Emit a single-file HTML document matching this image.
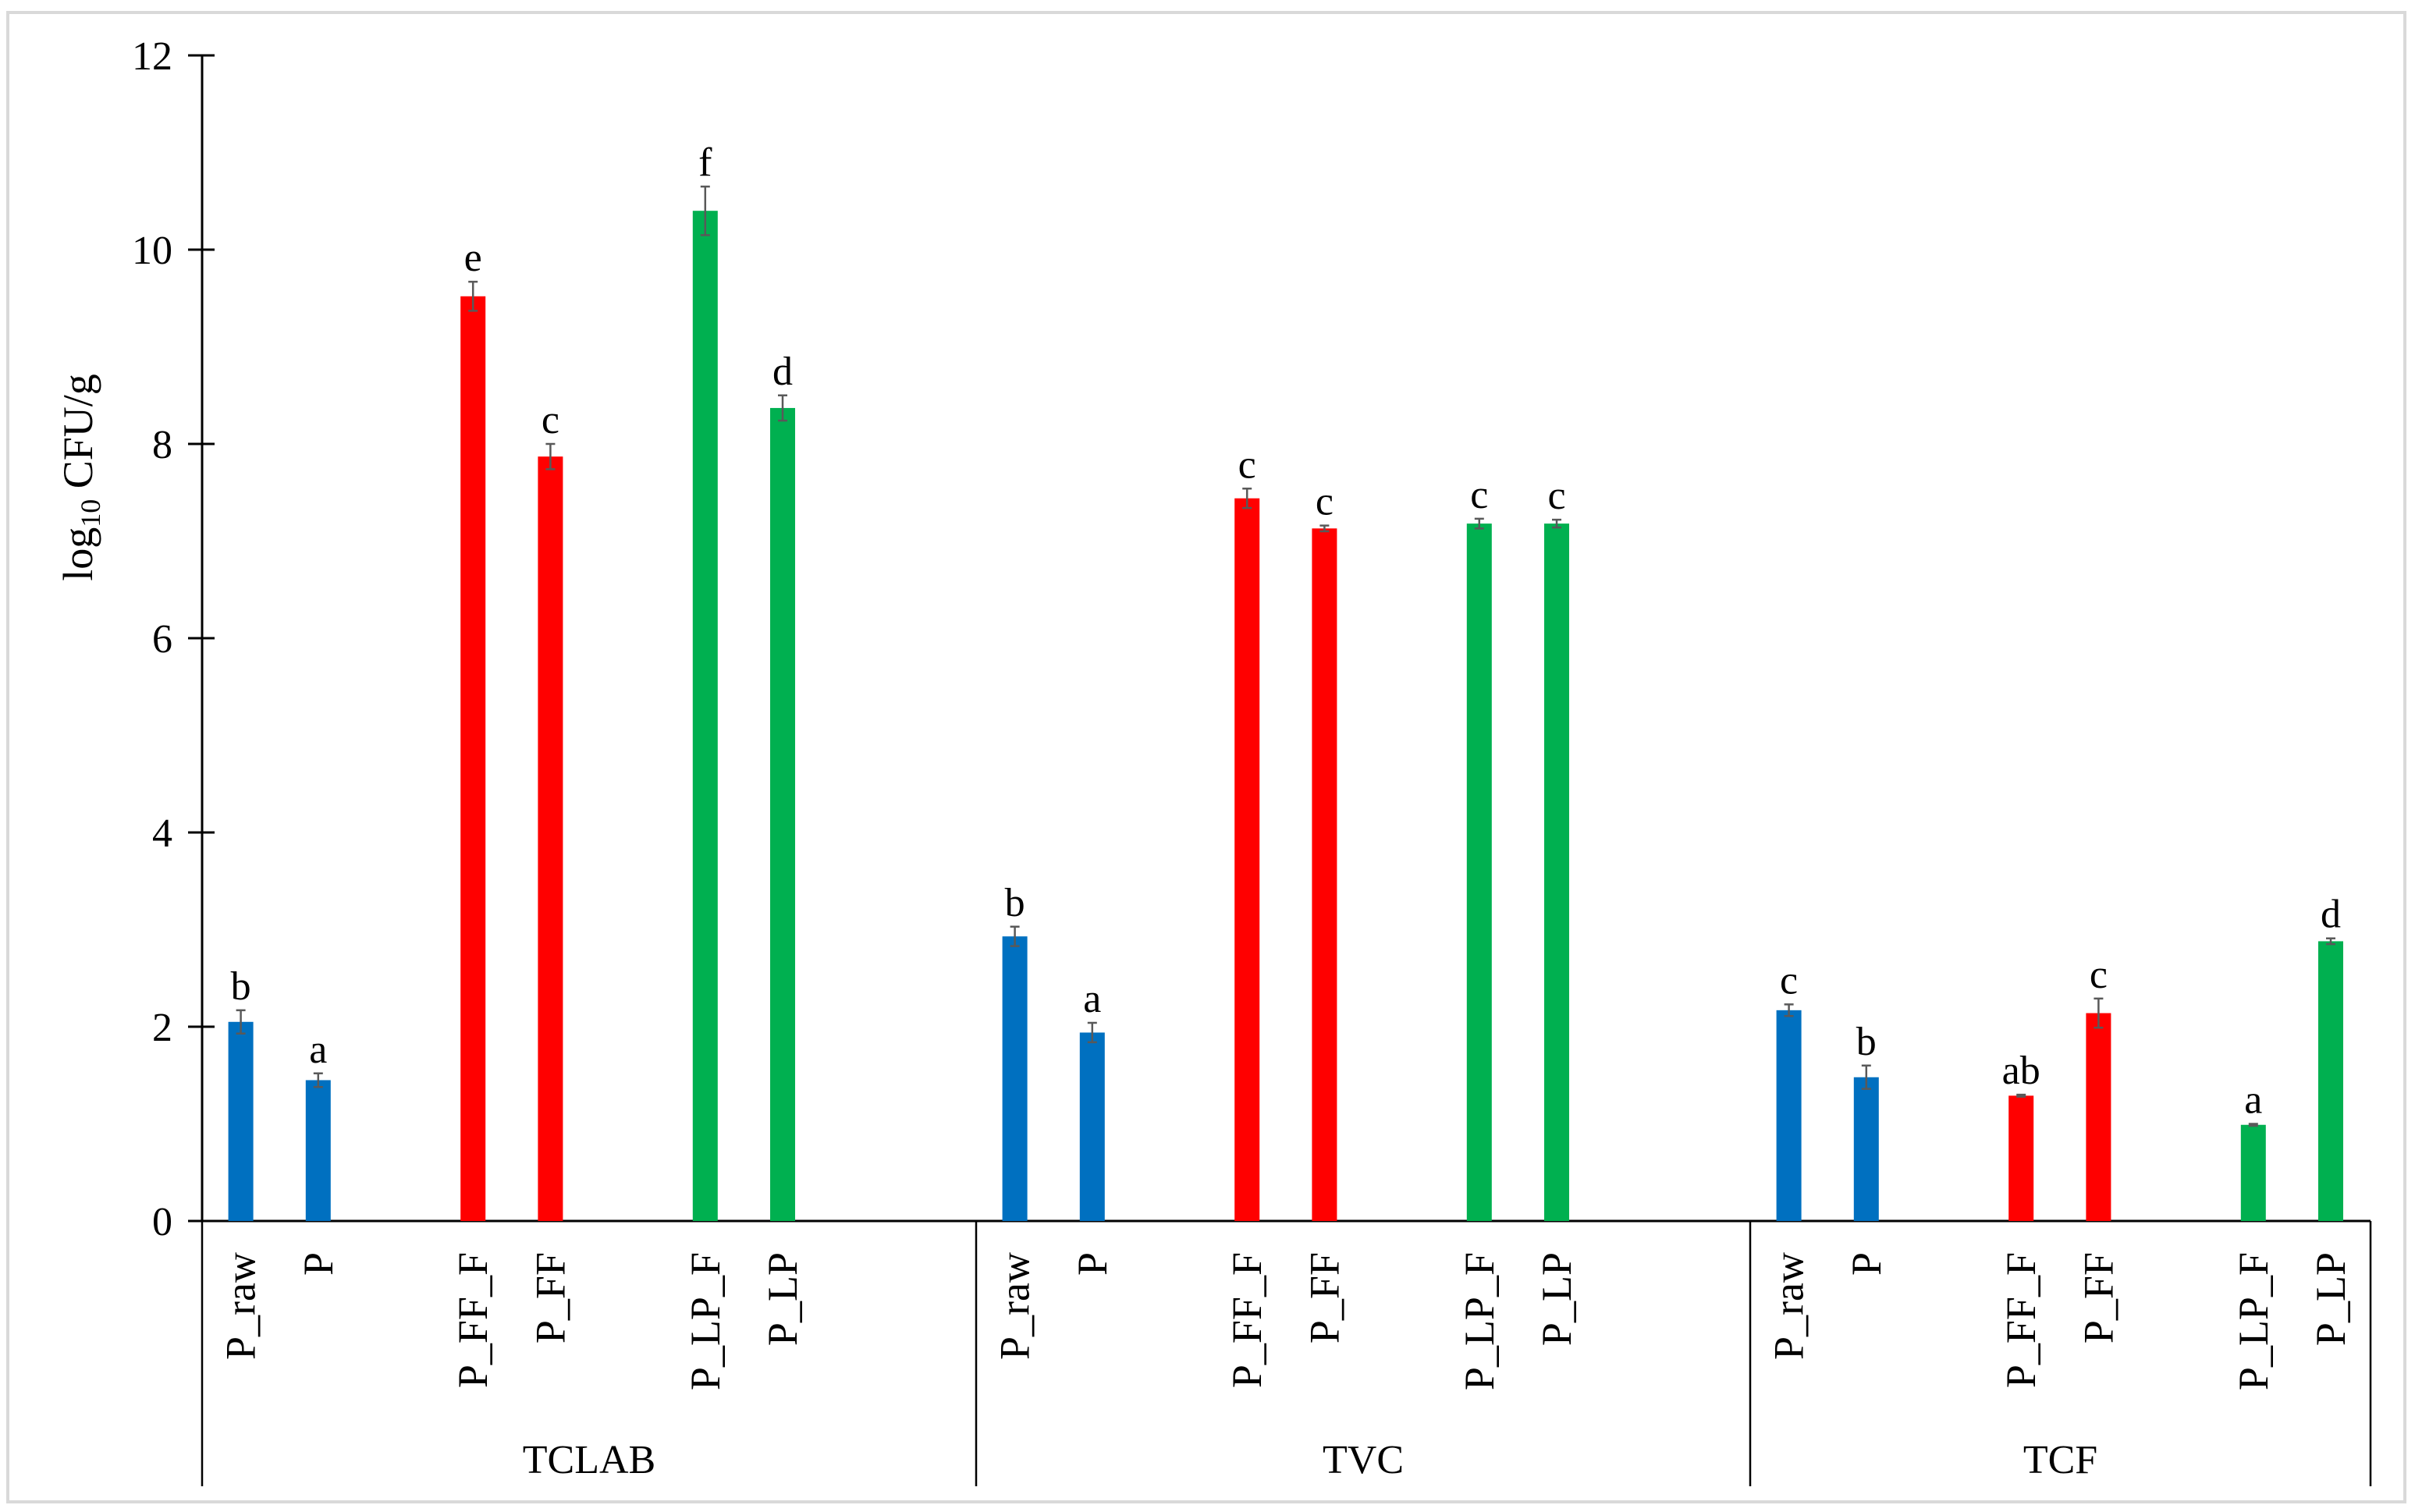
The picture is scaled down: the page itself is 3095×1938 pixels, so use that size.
<!DOCTYPE html>
<html><head><meta charset="utf-8">
<style>
html,body{margin:0;padding:0;background:#fff;}
svg{display:block;font-family:"Liberation Serif","DejaVu Serif",serif;}
</style></head>
<body>
<svg id="chart" width="3095" height="1938" viewBox="0 0 3095 1938" xmlns="http://www.w3.org/2000/svg">
<rect x="10" y="16" width="3072" height="1909" fill="#fff" stroke="#d9d9d9" stroke-width="4"/>
<g id="axes"></g>
<g id="bars"></g>
<text transform="translate(118,612) rotate(-90)" text-anchor="middle" font-size="54" fill="#000">log<tspan font-size="36" dy="10">10</tspan><tspan dy="-10"> CFU/g</tspan></text>
</svg>
<script>
const groups = ["TCLAB","TVC","TCF"];
const categories = ["P_raw","P","P_FF_F","P_FF","P_LP_F","P_LP"];
const tclabValues = [2.05,1.45,9.52,7.87,10.4,8.37];
const tvcValues = [2.93,1.94,7.44,7.13,7.18,7.18];
const tcfValues = [2.17,1.48,1.29,2.14,0.99,2.88];
const tclabErrors = [0.12,0.07,0.15,0.13,0.25,0.13];
const tvcErrors = [0.1,0.1,0.1,0.03,0.05,0.04];
const tcfErrors = [0.06,0.12,0.01,0.15,0.01,0.03];
const tclabLetters = ["b","a","e","c","f","d"];
const tvcLetters = ["b","a","c","c","c","c"];
const tcfLetters = ["c","b","ab","c","a","d"];
const yTicks = [0,2,4,6,8,10,12];
const colors = ["#0070C0","#0070C0","#FF0000","#FF0000","#00B050","#00B050"];
const slotIndex = [0,1,3,4,6,7];

const NS="http://www.w3.org/2000/svg";
const x0=259, y0=1565, pxPerUnit=124.5;
const groupStart=[259,1251,2243], groupEnd=3038, slotW=99.2;
function y(v){return y0 - v*pxPerUnit;}
function xc(g,i){return groupStart[g] + slotW*(slotIndex[i]+0.5);}
function mk(tag,attrs,parent){const e=document.createElementNS(NS,tag);for(const k in attrs)e.setAttribute(k,attrs[k]);parent.appendChild(e);return e;}
const axes=document.getElementById('axes'), barsG=document.getElementById('bars');

let l=mk('line',{x1:x0,y1:y(12),x2:x0,y2:y0,stroke:'#000','stroke-width':3},axes);


yTicks.forEach(t=>{
  let tk=mk('line',{x1:x0-18,y1:y(t),x2:x0+16,y2:y(t),stroke:'#000','stroke-width':3},axes);
  
  
  let tx=mk('text',{x:x0-38,y:y(t)+18,'text-anchor':'end','font-size':52},axes);
  tx.textContent=t;
  
  
});
l=mk('line',{x1:x0-18,y1:y0,x2:groupEnd,y2:y0,stroke:'#000','stroke-width':3},axes);


[groupStart[0],groupStart[1],groupStart[2],groupEnd].forEach(gx=>{
  let d=mk('line',{x1:gx,y1:y0,x2:gx,y2:1905,stroke:'#000','stroke-width':2.5},axes);
  
  
});

const vals=[tclabValues,tvcValues,tcfValues];
const errs=[tclabErrors,tvcErrors,tcfErrors];
const lets=[tclabLetters,tvcLetters,tcfLetters];
groups.forEach((gname,g)=>{
  const endX = g<2?groupStart[g+1]:groupEnd;
  let gl=mk('text',{x:(groupStart[g]+endX)/2,y:1888,'text-anchor':'middle','font-size':52},axes);
  gl.textContent=gname;
  
  
  categories.forEach((c,i)=>{
    const cx=xc(g,i), v=vals[g][i], e=errs[g][i];
    let b=mk('rect',{x:cx-16,y:y(v),width:32,height:y0-y(v),fill:colors[i]},barsG);
    
    
    let eb=mk('path',{d:`M${cx},${y(v+e)}V${y(v-e)}M${cx-6},${y(v+e)}H${cx+6}M${cx-6},${y(v-e)}H${cx+6}`,stroke:'#595959','stroke-width':2.5,fill:'none'},barsG);
    
    
    let lt=mk('text',{x:cx,y:y(v+e)-14,'text-anchor':'middle','font-size':52},barsG);
    lt.textContent=lets[g][i];
    
    
    let cl=mk('text',{transform:`translate(${cx+18},1605) rotate(-90)`,'text-anchor':'end','font-size':54},axes);
    cl.textContent=c;
    
    
  });
});
</script>
</body></html>
